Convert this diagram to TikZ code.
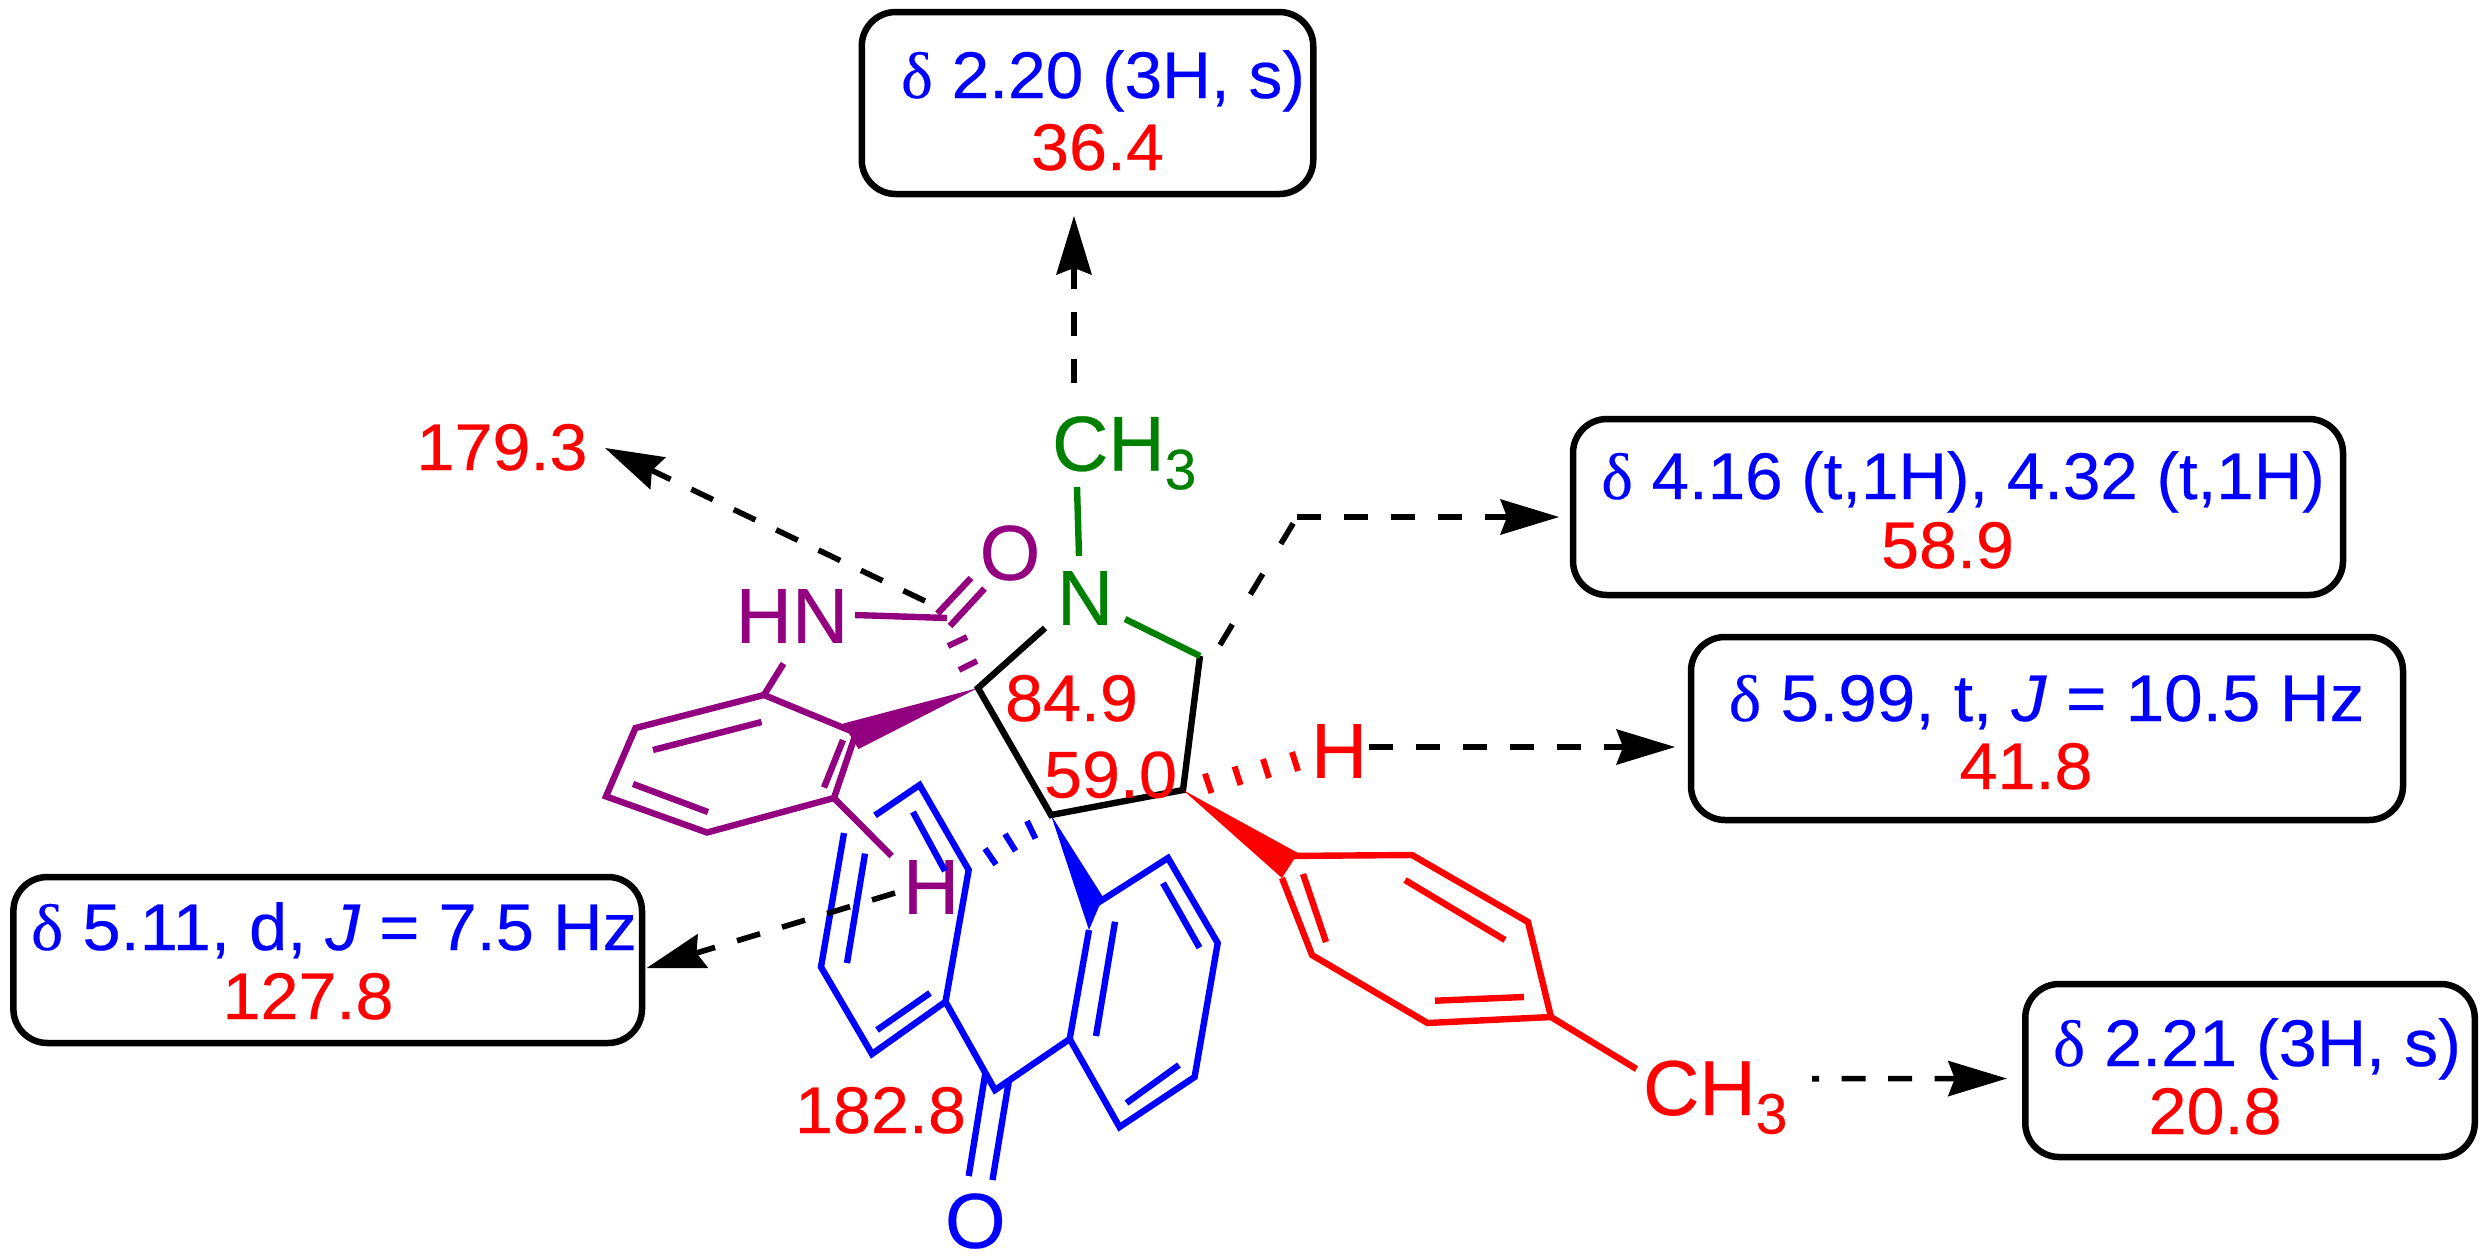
\documentclass[tikz,border=0pt]{standalone}
\usepackage{fontspec}
\usepackage{graphicx}
\setmainfont{Liberation Sans}[FakeBold=0.35]
\newfontfamily\smf{Liberation Sans}[FakeStretch=1.035,FakeBold=0.35]
\newfontfamily\dfont{Liberation Serif}[FakeStretch=1.035,FakeBold=0.2]
\usetikzlibrary{arrows.meta,calc}
\definecolor{pur}{RGB}{146,0,128}
\definecolor{grn}{RGB}{0,128,0}
\newcommand\fsmall{\smf\fontsize{66}{66}\selectfont}
\newcommand\fatom{\fontsize{78}{78}\selectfont}
\newcommand\fsub{\fontsize{57}{57}\selectfont}
\newcommand\dlt{{\dfont δ}}
\newcommand\subthree{\raisebox{-18.5pt}{\fsub 3}}
\tikzset{
  bond/.style={line width=6.4pt,line join=miter},
  hash/.style={line width=6pt},
  wedge/.style={fill,draw=none},
  atom/.style={inner sep=0pt,outer sep=0pt,font=\fatom},
  shifttxt/.style={inner sep=0pt,outer sep=0pt,anchor=base,font=\fsmall},
  nmr/.style={shifttxt,text=blue},
  cmr/.style={shifttxt,text=red},
  boxnode/.style={draw=black,line width=6.5pt,rounded corners=34pt,inner sep=0pt,outer sep=0pt},
  darrow/.style={line width=5.6pt,dash pattern=on 24pt off 23pt,-{Stealth[length=59pt,width=36pt,inset=7pt,line width=0pt]}},
}
\begin{document}
\begin{tikzpicture}[x=1pt,y=-1pt]
\useasboundingbox (0,0) rectangle (2484,1259);
\fill[white] (0,0) rectangle (2484,1259);

% boxes
\node[boxnode,minimum width=451.5pt,minimum height=182pt] (b1) at (1087.5,103) {};
\node[boxnode,minimum width=770pt,minimum height=176pt] (b2) at (1958,507) {};
\node[boxnode,minimum width=712pt,minimum height=183pt] (b3) at (2047,728.5) {};
\node[boxnode,minimum width=449.5pt,minimum height=173pt] (b4) at (2250,1070.5) {};
\node[boxnode,minimum width=628.6pt,minimum height=166pt] (b5) at (327.7,960) {};

% atom positions
\coordinate (Cs) at (978,688);
\coordinate (CH2) at (1200,656);
\coordinate (C4) at (1183,790);
\coordinate (C3) at (1051,815);
\coordinate (Cc) at (947,618);
\coordinate (p1) at (764,695);
\coordinate (p2) at (635.5,728);
\coordinate (p3) at (606,796.4);
\coordinate (p4) at (707,832.5);
\coordinate (p5) at (834,798);
\coordinate (p6) at (856,733);
\coordinate (CO) at (995,1090);
\coordinate (l1) at (919.6,785);
\coordinate (l2) at (968.7,870);
\coordinate (l3) at (945.5,1001.7);
\coordinate (l4) at (872,1054);
\coordinate (l5) at (821,967);
\coordinate (l6) at (844,833);
\coordinate (l7) at (875,815.4);
\coordinate (r1) at (1069.7,1039);
\coordinate (r2) at (1089,930);
\coordinate (r3) at (1168,858);
\coordinate (r4) at (1217.7,943);
\coordinate (r5) at (1194.6,1077);
\coordinate (r6) at (1119.5,1127);
\coordinate (r7) at (1096,904);
\coordinate (t1) at (1282,856);
\coordinate (t2) at (1412,855);
\coordinate (t3) at (1528,922);
\coordinate (t4) at (1551,1017);
\coordinate (t5) at (1427.5,1023);
\coordinate (t6) at (1312,955);
\coordinate (t7) at (1282,878);

% atom labels
\node[atom,text=grn] (N) at (1085,598) {N};
\node[atom,text=grn,anchor=base west] (Mg) at (1052,470.7) {CH\subthree};
\node[atom,text=pur] (O1) at (1010,553) {O};
\node[atom,text=pur] (HN) at (792,616) {HN};
\node[atom,text=pur] (Hp) at (931,887) {H};
\node[atom,text=blue] (O2) at (975.3,1221) {O};
\node[atom,text=red] (Hr) at (1339,751) {H};
\node[atom,text=red,anchor=base west] (Mr) at (1643,1115) {CH\subthree};

% blue rings
\begin{scope}[blue]
\draw[bond] (l7) -- (l1) -- (l2) -- (l3) -- (l4) -- (l5) -- (l6);
\draw[bond] (l3) -- (CO) -- (r1);
\draw[bond] (r7) -- (r3) -- (r4) -- (r5) -- (r6) -- (r1) -- (r2);
\draw[bond] (913,812) -- (945,871);
\draw[bond] (865,853.6) -- (847,963);
\draw[bond] (930,993) -- (877,1030);
\draw[bond] (1115,921.7) -- (1096,1036);
\draw[bond] (1163,883) -- (1199.5,947.7);
\draw[bond] (1179,1065) -- (1126.5,1103);
\draw[bond] (985.5,1072) -- (968.7,1176);
\draw[bond] (1009,1080) -- (992.5,1180);
\fill[wedge] (C3) -- (1103,897) -- (1089,930) -- cycle;
\draw[hash] (1027,821) -- (1035.5,838.6);
\draw[hash] (1005,834) -- (1015.6,851);
\draw[hash] (985,848.6) -- (996,864.6);
\end{scope}

% purple ring
\begin{scope}[pur]
\draw[bond] (p1) -- (p2) -- (p3) -- (p4) -- (p5) -- (p6) -- cycle;
\draw[bond] (653,750) -- (761.5,722);
\draw[bond] (633,784) -- (708,812);
\draw[bond] (843,740) -- (824,787.5);
\draw[bond] (p1) -- ([shift={(-8.5,47.6)}]HN.center);
\draw[bond] (p5) -- ([shift={(-39.4,-31)}]Hp.center);
\draw[bond] ([shift={(63,-1)}]HN.center) -- (Cc);
\draw[bond] (971,578) -- (937.5,613.6);
\draw[bond] (984.5,588.6) -- (950,626);
\draw[hash] (948,646) -- (967,637);
\draw[hash] (959,670) -- (977,661);
\fill[wedge] (Cs) -- (843,723.6) -- (858.5,749) -- cycle;
\end{scope}

% black and green bonds of the five-membered ring
\draw[bond] ([shift={(-40,30)}]N.center) -- (Cs) -- (C3) -- (C4) -- (CH2);
\draw[bond,grn] ([shift={(40,21)}]N.center) -- (CH2);
\draw[bond,grn] ([shift={(-8,-111)}]N.center) -- ([shift={(-6,-42)}]N.center);

% red tolyl group
\begin{scope}[red]
\draw[bond] (t1) -- (t2) -- (t3) -- (t4) -- (t5) -- (t6) -- (t7);
\draw[bond] (1303,874) -- (1326,942);
\draw[bond] (1405,880) -- (1505,940);
\draw[bond] (1435,1000.7) -- (1524,997);
\draw[bond] (t4) -- ([shift={(-6.5,-46)}]Mr.base west);
\fill[wedge] (C4) -- (1298,853) -- (1282,878) -- cycle;
\draw[hash] (1205,773.6) -- (1211.5,793);
\draw[hash] (1234.5,766.4) -- (1240.6,785);
\draw[hash] (1263,759) -- (1269,778);
\draw[hash] (1292,752) -- (1298,771);
\end{scope}

% dashed arrows
\coordinate (a1s) at (1074,383);
\coordinate (a1t) at ([shift={(-13.5,22)}]b1.south);
\draw[darrow] (a1s) -- (a1t);
\coordinate (a2s) at (925,601);
\coordinate (a2t) at (605,448);
\draw[darrow] (a2s) -- (a2t);
\coordinate (a3s) at (1220,645);
\coordinate (a3m) at (1297,517);
\coordinate (a3t) at ([shift={(-14,10)}]b2.west);
\draw[line width=5.6pt,dash pattern=on 24pt off 35pt] (a3s) -- (a3m);
\draw[darrow] (a3m) -- (a3t);
\coordinate (a4t) at ([shift={(-16,18.5)}]b3.west);
\draw[darrow] ([shift={(29.6,-4)}]Hr.center) -- (a4t);
\coordinate (a5t) at ([shift={(-18.5,8)}]b4.west);
\draw[darrow,dash pattern=on 24pt off 22.5pt,dash phase=17pt] (1812,1078.7) -- (a5t);
\coordinate (a6t) at ([shift={(4.7,8)}]b5.east);
\draw[darrow] (895,893) -- (a6t);

% spectral data
\node[nmr] (t1b) at (1103,98) {\scalebox{0.99}[1]{\dlt{} 2.20 (3H, s)}};
\node[cmr] (t1r) at (1097.5,170) {36.4};
\node[nmr] (t2b) at (1963,499) {\scalebox{0.985}[1]{\dlt{} 4.16 (t,1H), 4.32 (t,1H)}};
\node[cmr] (t2r) at (1947.5,568) {58.9};
\node[nmr] (t3b) at (2046.5,721) {\scalebox{1.014}[1]{\dlt{} 5.99, t, \textit{J} = 10.5 Hz}};
\node[cmr] (t3r) at (2026,789) {41.8};
\node[nmr] (t4b) at (2257,1066) {\dlt{} 2.21 (3H, s)};
\node[cmr] (t4r) at (2215,1134) {20.8};
\node[nmr] (t5b) at (334,950) {\scalebox{1.005}[1]{\dlt{} 5.11, d, \textit{J} = 7.5 Hz}};
\node[cmr] (t5r) at (308,1019) {127.8};
\node[cmr] (c1) at (502,470) {179.3};
\node[cmr] (c2) at (880.5,1133) {182.8};
\node[cmr] (c3) at (1071.5,721) {84.9};
\node[cmr] (c4) at (1110.5,797.5) {59.0};
\end{tikzpicture}
\end{document}
